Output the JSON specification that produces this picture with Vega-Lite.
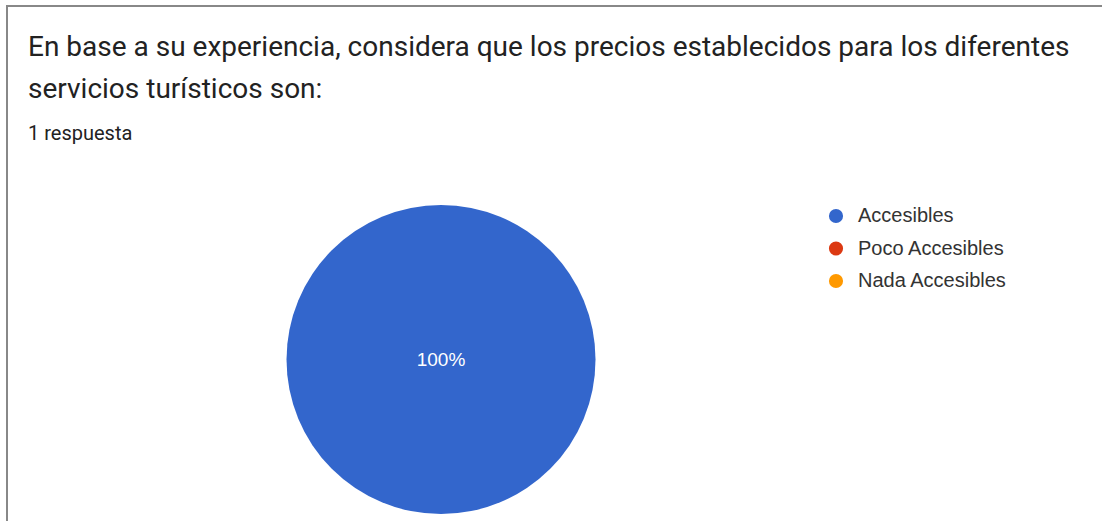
{
  "$schema": "https://vega.github.io/schema/vega-lite/v6.json",
  "autosize": "none",
  "width": 1101,
  "height": 521,
  "padding": {"left": 7, "top": 6, "right": -6, "bottom": -6},
  "background": "white",
  "config": {"view": {"stroke": "#888888", "strokeWidth": 2}},
  "title": {
    "text": ["En base a su experiencia, considera que los precios establecidos para los diferentes", "servicios turísticos son:"],
    "subtitle": "1 respuesta",
    "anchor": "start",
    "orient": "top",
    "offset": -138,
    "dx": 21,
    "font": "Roboto",
    "fontSize": 28,
    "fontWeight": "normal",
    "color": "#222222",
    "lineHeight": 42,
    "subtitleFont": "Roboto",
    "subtitleFontSize": 20,
    "subtitleColor": "#222222",
    "subtitlePadding": 20
  },
  "data": {
    "values": [
      {"category": "Accesibles", "value": 1, "label": "100%"},
      {"category": "Poco Accesibles", "value": 0, "label": ""},
      {"category": "Nada Accesibles", "value": 0, "label": ""}
    ]
  },
  "layer": [
    {
      "mark": {"type": "arc", "radius": 154.5},
      "encoding": {
        "theta": {"field": "value", "type": "quantitative", "stack": true},
        "order": {"field": "value", "type": "quantitative", "sort": "descending"},
        "x": {"datum": 0.3942, "type": "quantitative", "scale": {"domain": [0, 1]}, "axis": null},
        "y": {"datum": 0.3214, "type": "quantitative", "scale": {"domain": [0, 1]}, "axis": null},
        "color": {
          "field": "category",
          "type": "nominal",
          "scale": {"domain": ["Accesibles", "Poco Accesibles", "Nada Accesibles"], "range": ["#3366cc", "#dc3912", "#ff9900"]},
          "legend": {
            "title": null,
            "orient": "none",
            "legendX": 819,
            "legendY": 200,
            "symbolType": "circle",
            "symbolSize": 200,
            "symbolStrokeWidth": 0,
            "labelFont": "Liberation Sans",
            "labelFontSize": 20,
            "labelColor": "#333333",
            "labelOffset": 12,
            "rowPadding": 12.5
          }
        }
      }
    },
    {
      "transform": [{"filter": "datum.value > 0"}],
      "mark": {"type": "text", "font": "Liberation Sans", "fontSize": 19, "color": "white", "align": "center", "baseline": "middle"},
      "encoding": {
        "text": {"field": "label"},
        "x": {"datum": 0.3942, "type": "quantitative"},
        "y": {"datum": 0.3214, "type": "quantitative"}
      }
    }
  ]
}
